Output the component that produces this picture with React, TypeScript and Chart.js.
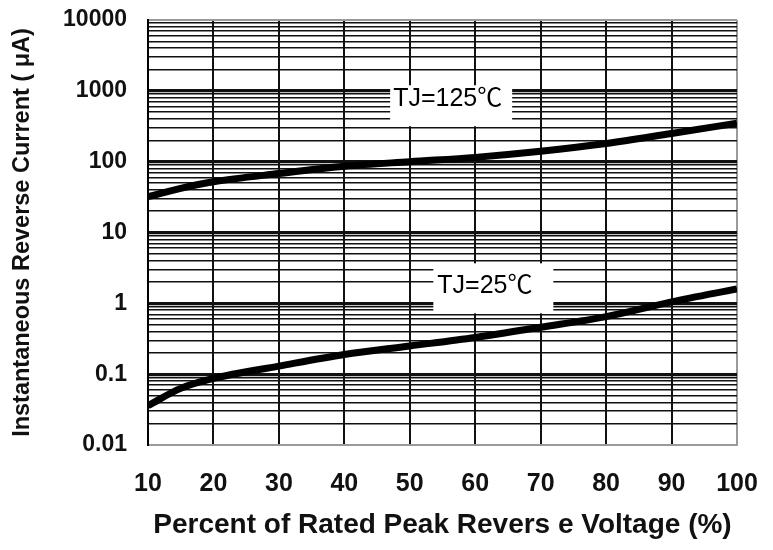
import React, { useEffect, useRef } from "react";
import { Chart, registerables } from "chart.js";

Chart.register(...registerables);

// ---- data ----
const voltagePercent = [10, 15, 20, 30, 40, 50, 60, 70, 80, 90, 100];
const currentTj125 = [32, 42, 52, 68, 86, 100, 115, 140, 180, 250, 350];
const currentTj25 = [0.036, 0.063, 0.087, 0.13, 0.19, 0.25, 0.33, 0.46, 0.65, 1.05, 1.6];
const yDecades = [0.01, 0.1, 1, 10, 100, 1000, 10000];
const yDecadeLabels = ["0.01", "0.1", "1", "10", "100", "1000", "10000"];
const xTickLabels = ["10", "20", "30", "40", "50", "60", "70", "80", "90", "100"];
const seriesNames = ["TJ=125℃", "TJ=25℃"];

// annotation boxes (anchor at top-left in data units)
const annotations = [
  { text: seriesNames[0], x: 47, y: 1200, w: 122, h: 41, dx: 3, dy: 21 },
  { text: seriesNames[1], x: 53.6, y: 3.67, w: 120, h: 50, dx: 4, dy: 30 },
];

const FONT = "'Liberation Sans', Arial, 'Noto Sans CJK SC', sans-serif";
const GRAY = "#9a9a9a";
const INK = "#111";

const isDecade = (v: number) => Math.abs(Math.log10(v) - Math.round(Math.log10(v))) < 1e-9;

const annotationPlugin = {
  id: "tjLabels",
  afterDatasetsDraw(chart: any) {
    const { ctx, scales } = chart;
    const xs = scales.x;
    const ys = scales.y;
    ctx.save();
    for (const a of annotations) {
      const px = xs.getPixelForValue(a.x);
      const py = ys.getPixelForValue(a.y);
      ctx.fillStyle = "#fff";
      ctx.fillRect(px, py, a.w, a.h);
      ctx.fillStyle = "#000";
      ctx.font = `25px ${FONT}`;
      ctx.textBaseline = "alphabetic";
      ctx.textAlign = "left";
      ctx.fillText(a.text, px + a.dx, py + a.dy);
    }
    ctx.restore();
  },
};

export default function App() {
  const canvasRef = useRef<HTMLCanvasElement | null>(null);

  useEffect(() => {
    document.body.style.margin = "0";
    const canvas = canvasRef.current;
    if (!canvas) return;

    const yTickValues: number[] = [];
    for (let i = 0; i < yDecades.length - 1; i++) {
      for (let m = 1; m <= 9; m++) yTickValues.push(yDecades[i] * m);
    }
    yTickValues.push(yDecades[yDecades.length - 1]);

    const chart = new Chart(canvas, {
      type: "line",
      data: {
        datasets: [
          {
            label: seriesNames[0],
            data: voltagePercent.map((x, i) => ({ x, y: currentTj125[i] })),
            borderColor: "#000",
            borderWidth: 7,
            pointRadius: 0,
            cubicInterpolationMode: "monotone",
            fill: false,
          },
          {
            label: seriesNames[1],
            data: voltagePercent.map((x, i) => ({ x, y: currentTj25[i] })),
            borderColor: "#000",
            borderWidth: 7,
            pointRadius: 0,
            cubicInterpolationMode: "monotone",
            fill: false,
          },
        ],
      },
      options: {
        animation: false,
        responsive: true,
        maintainAspectRatio: false,
        layout: { padding: { left: 0, right: 36, top: 20, bottom: 0 } },
        plugins: {
          legend: { display: false },
          tooltip: { enabled: false },
        },
        scales: {
          x: {
            type: "linear",
            min: 10,
            max: 100,
            afterFit: (s: any) => {
              s.height = 105;
              s.paddingLeft = 0;
              s.paddingRight = 0;
            },
            afterBuildTicks: (s: any) => {
              s.ticks = xTickLabels.map((t) => ({ value: Number(t) }));
            },
            ticks: {
              padding: 24,
              color: INK,
              font: { family: FONT, size: 25, weight: "bold" },
              callback: (v: any) => {
                const idx = xTickLabels.indexOf(String(v));
                return idx >= 0 ? xTickLabels[idx] : "";
              },
              maxRotation: 0,
              autoSkip: false,
            },
            grid: {
              drawTicks: false,
              color: (c: any) => (c.tick && c.tick.value === 100 ? GRAY : INK),
              lineWidth: 2,
            },
            border: { display: true, color: GRAY, width: 2 },
            title: {
              display: true,
              text: "Percent of Rated Peak Revers e Voltage (%)",
              color: INK,
              font: { family: FONT, size: 28, weight: "bold" },
              padding: { top: 0, bottom: 8 },
            },
          },
          y: {
            type: "logarithmic",
            min: 0.01,
            max: 10000,
            afterFit: (s: any) => {
              s.width = 148;
              s.paddingTop = 0;
              s.paddingBottom = 0;
            },
            afterBuildTicks: (s: any) => {
              s.ticks = yTickValues.map((v) => ({ value: v }));
            },
            ticks: {
              padding: 21,
              color: INK,
              autoSkip: false,
              font: { family: FONT, size: 23, weight: "bold" },
              callback: (v: any) => {
                const idx = yDecades.findIndex((d) => Math.abs(d - v) / d < 1e-6);
                return idx >= 0 ? yDecadeLabels[idx] : "";
              },
            },
            grid: {
              drawTicks: false,
              color: (c: any) => {
                const v = c.tick ? c.tick.value : 1;
                if (Math.abs(v - 10000) < 1e-6 || Math.abs(v - 0.01) < 1e-9) return GRAY;
                return INK;
              },
              lineWidth: (c: any) => {
                const v = c.tick ? c.tick.value : 1;
                if (Math.abs(v - 10000) < 1e-6 || Math.abs(v - 0.01) < 1e-9) return 2;
                return isDecade(v) ? 3.2 : 1.5;
              },
            },
            border: { display: true, color: "#000", width: 2 },
            title: {
              display: true,
              text: "Instantaneous Reverse Current ( μA)",
              color: INK,
              font: { family: FONT, size: 23.5, weight: "bold" },
              padding: { top: 8, bottom: 0 },
            },
          },
        },
      },
      plugins: [annotationPlugin],
    });

    return () => chart.destroy();
  }, []);

  return (
    <div style={{ width: 773, height: 550, position: "relative", background: "#fff" }}>
      <canvas ref={canvasRef} />
    </div>
  );
}
